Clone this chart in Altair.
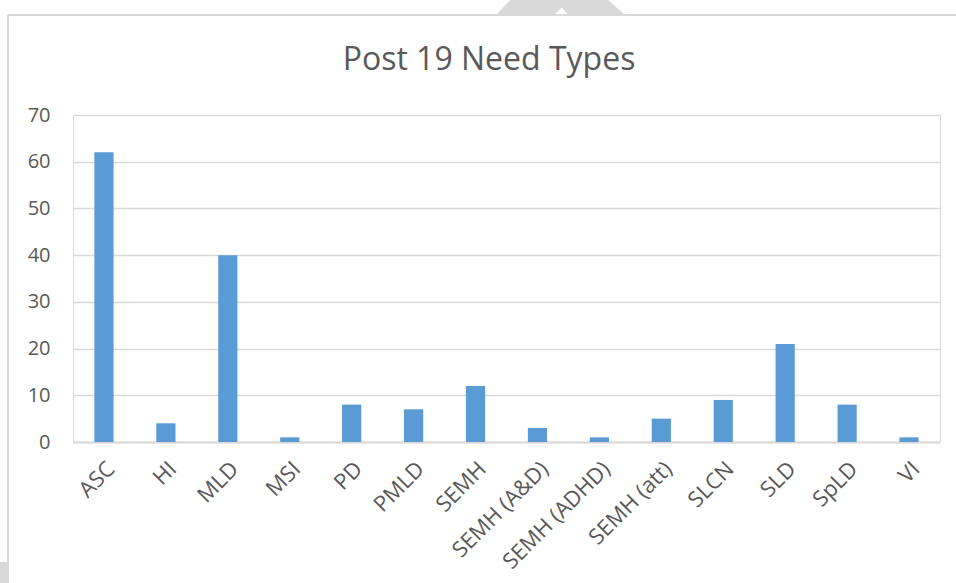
import altair as alt
import pandas as pd

categories = ["ASC", "HI", "MLD", "MSI", "PD", "PMLD", "SEMH", "SEMH (A&D)",
              "SEMH (ADHD)", "SEMH (att)", "SLCN", "SLD", "SpLD", "VI"]
counts = [62, 4, 40, 1, 8, 7, 12, 3, 1, 5, 9, 21, 8, 1]
y_ticks = [0, 10, 20, 30, 40, 50, 60, 70]
chart_title = "Post 19 Need Types"

df = pd.DataFrame({"need": categories, "count": counts})
one = pd.DataFrame({"k": [0]})

FONT = "Open Sans"
GREY = "#595959"
LINE = "#d9d9d9"

bars = alt.Chart(df).mark_bar(color="#5B9BD5").encode(
    x=alt.X("need:N", sort=categories, title=None,
            scale=alt.Scale(paddingInner=0.69, paddingOuter=0.345),
            axis=alt.Axis(labelAngle=-45, labelAlign="right", labelBaseline="top",
                          labelPadding=16, labelOffset=0, ticks=False,
                          domainColor=LINE, domainWidth=2,
                          labelColor=GREY, labelFontSize=22, labelFont=FONT, grid=False,
                          labelOverlap=False, labelBound=False)),
    y=alt.Y("count:Q", title=None,
            scale=alt.Scale(domain=[0, 70], nice=False),
            axis=alt.Axis(values=y_ticks, ticks=False, domain=False, labelPadding=23,
                          labelColor=GREY, labelFontSize=20, labelFont=FONT,
                          gridColor=LINE, gridWidth=1.3)),
)

title_mark = alt.Chart(one).mark_text(font=FONT, fontSize=32, fontWeight="normal",
                                      color=GREY, align="center", baseline="middle").encode(
    x=alt.value(416), y=alt.value(-55), text=alt.value(chart_title))

# outer chart frame (decorative)
frame_left = alt.Chart(one).mark_rule(color=LINE, strokeWidth=2).encode(
    x=alt.value(-65), y=alt.value(-100), y2=alt.value(500))
frame_top = alt.Chart(one).mark_rule(color=LINE, strokeWidth=2).encode(
    x=alt.value(-65), x2=alt.value(900), y=alt.value(-100))
# decorative grey shapes at page edges
roof = alt.Chart(one).mark_point(
    shape="M -1 0.116 L -0.78 -0.116 L 0.74 -0.116 L 1 0.116 L 0.12 0.116 L 0.02 0 L -0.1 0.116 Z",
    filled=True, color=LINE, opacity=1, size=16641, strokeWidth=0).encode(
    x=alt.value(487.5), y=alt.value(-107.5))
corner = alt.Chart(one).mark_rect(color=LINE).encode(
    x=alt.value(-73), x2=alt.value(-66), y=alt.value(447), y2=alt.value(470))

chart = alt.layer(frame_left, frame_top, roof, corner, title_mark, bars).properties(
    width=867, height=327,
    autosize=alt.AutoSizeParams(type="none"),
    padding={"left": 73, "top": 115, "right": 16, "bottom": 141},
).configure_view(strokeWidth=0).configure(background="white")

chart.save("out.html", embed_options={"renderer": "svg", "actions": False})
